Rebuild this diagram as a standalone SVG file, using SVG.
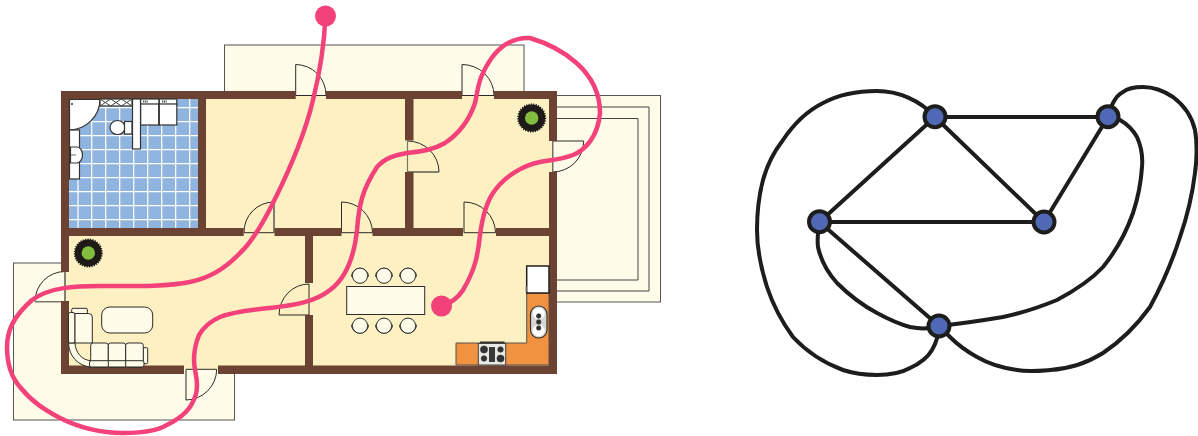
<svg xmlns="http://www.w3.org/2000/svg" width="1198" height="436" viewBox="0 0 1198 436">
<style>
.terrace{fill:#fefce8;stroke:#555;stroke-width:1}
.tl{fill:none;stroke:#444;stroke-width:1}
.wall{fill:#6c4232}
.door{fill:#fefce8;stroke:#2a2a28;stroke-width:1}
.doorf{fill:#fdf0c3;stroke:#2a2a28;stroke-width:1}
.leaf{fill:none;stroke:#77756a;stroke-width:1.2}
.fur{fill:#fefce8;stroke:#2a2a28;stroke-width:1}
.wht{fill:#fff;stroke:#33322f;stroke-width:1.2}
.chair{fill:#fefce8;stroke:#2a2a28;stroke-width:1}
.route{fill:none;stroke:#f3427a;stroke-width:4.5}
.edge{fill:none;stroke:#1d1d1b;stroke-width:4}
.node{fill:#5068b5;stroke:#1d1d1b;stroke-width:4}
.burn{fill:#333;stroke:#222;stroke-width:.5}
</style>
<defs>
<g id="chair"><path d="M-8.5,1 A8.5,8.5 0 0 1 8.5,1" fill="none" stroke="#2a2a28" stroke-width="1"/><circle r="7.6" class="chair"/></g>
<g id="tree"><circle r="13.5" fill="#1d1a17" stroke="#1d1a17" stroke-width="2" stroke-dasharray="1.2 1.2"/><circle r="6.7" fill="#82bd3f"/></g>
</defs>

<g id="floorplan">
<rect class="terrace" x="224.500" y="45" width="299.500" height="50"/>
<rect class="terrace" x="13.500" y="263" width="221" height="157"/>
<rect class="terrace" x="553" y="95.500" width="107.500" height="206.500"/>
<path class="tl" d="M553,107H649V291H553M553,118.500H638V280H553"/>
<rect x="65" y="95" width="488" height="274" fill="#fdf0c3"/>
<rect x="69" y="99" width="130" height="130" fill="#8fb4e0"/>
<path d="M78,99V228M91.700,99V228M105.700,99V228M119.700,99V228M133.700,99V228M147.700,99V228M161.700,99V228M175.700,99V228M189.700,99V228M69,107.700H198M69,121.700H198M69,135.700H198M69,149.700H198M69,163.700H198M69,177.700H198M69,191.700H198M69,205.700H198M69,219.700H198" fill="none" stroke="#fff" stroke-width="1.200"/>
<path d="M456,365V343H526.700V293H549V365Z" fill="#f09240" stroke="#55524a" stroke-width="1"/>

<path class="door" d="M295.700,95.500V64.500A30.500,30.500 0 0 1 326,95.500Z"/>
<path class="door" d="M462,95.500V64.500A32,31 0 0 1 494,95.500Z"/>
<path class="door" d="M552.700,172V141H583.700A31,31 0 0 1 552.700,172Z"/>
<path class="door" d="M65,301.700V271.500A30,30 0 0 0 35,301.700Z"/>
<path class="door" d="M186,369.300H216.700A31,31 0 0 1 186,400Z"/>
<path class="doorf" d="M407.500,172V141A31.500,31 0 0 1 439,172Z"/>
<path class="doorf" d="M274,232.700V202A30,30 0 0 0 244,232.700Z"/>
<path class="doorf" d="M341.500,232.700V202A31,31 0 0 1 372.500,232.700Z"/>
<path class="doorf" d="M464,232.700V202A31.500,31 0 0 1 495.500,232.700Z"/>
<path class="doorf" d="M309,315V284A30,31 0 0 0 279,315Z"/>
<path class="leaf" d="M407.500,141V172H439M552.700,141V172M274,202V232.700M65,271.500V301.700H35"/>

<g class="wall">
<rect x="61" y="91" width="234.700" height="8"/>
<rect x="326" y="91" width="136" height="8"/>
<rect x="494" y="91" width="63" height="8"/>
<rect x="61" y="91" width="8" height="181"/>
<rect x="61" y="301" width="8" height="73"/>
<rect x="549" y="91" width="8" height="50"/>
<rect x="549" y="172" width="8" height="202"/>
<rect x="61" y="365.500" width="123" height="8.500"/>
<rect x="218" y="365.500" width="339" height="8.500"/>
<rect x="198" y="91" width="8" height="145"/>
<rect x="405" y="91" width="8.500" height="49.500"/>
<rect x="405" y="172" width="8.500" height="60"/>
<rect x="61" y="228" width="182.700" height="8"/>
<rect x="274.500" y="228" width="67" height="8"/>
<rect x="372.500" y="228" width="90.500" height="8"/>
<rect x="496" y="228" width="61" height="8"/>
<rect x="305" y="232" width="8" height="51"/>
<rect x="305" y="315" width="8" height="52"/>
</g>

<use href="#tree" x="531.700" y="118"/>
<use href="#tree" x="88.300" y="253"/>

<path class="wht" d="M69.500,99.500H100A31,31 0 0 1 69.500,130Z" stroke="#555" stroke-width="1.500"/>
<circle cx="72" cy="104" r="1" fill="#333"/>
<rect class="wht" x="69.500" y="130" width="10" height="49"/>
<path class="wht" d="M70.500,147H77A5.500,8 0 0 1 77,163H70.500Z"/>
<path d="M70.500,155H76" fill="none" stroke="#333" stroke-width=".7"/>
<rect class="wht" x="100" y="99" width="32" height="7"/>
<path d="M100,99L110.700,106M110.700,99L100,106M110.700,99L121.400,106M121.400,99L110.700,106M121.400,99L132,106M132,99L121.400,106" stroke="#444" stroke-width="1" fill="none"/>
<ellipse class="wht" cx="117.500" cy="127.500" rx="7.500" ry="7" stroke-width="1.800"/>
<rect class="wht" x="124.500" y="121.500" width="7.500" height="12.500"/>
<rect class="wht" x="132.500" y="99" width="8" height="50"/>
<rect class="wht" x="140.700" y="99" width="18.300" height="5.500"/>
<rect class="wht" x="159.300" y="99" width="17.500" height="5.500"/>
<rect class="wht" x="140.700" y="104" width="18" height="21" stroke-width="1.600"/>
<rect class="wht" x="159.300" y="104" width="17.500" height="21" stroke-width="1.600"/>
<path d="M143,101.500h5M162,101.500h5" stroke="#555" stroke-width="1.800" stroke-dasharray="1.200 .6" fill="none"/>

<rect class="fur" x="101.700" y="307" width="51" height="26" rx="8"/>
<rect class="fur" x="71.700" y="308.300" width="15.700" height="6" rx="1.500"/>
<rect class="fur" x="143" y="347.700" width="4.700" height="16" rx="1"/>
<path class="fur" d="M68.500,343C69,356 78,366 90.700,367V360.700C82,360 75.500,353 75,343Z"/>
<rect class="fur" x="68.500" y="312.500" width="6.500" height="30.500" rx="2"/>
<path class="fur" d="M75,313.500H88.500Q92.300,313.500 92.300,317V343H75Z"/>
<rect class="fur" x="90.700" y="343" width="17.600" height="24" rx="2.500"/>
<rect class="fur" x="108.300" y="343" width="17.400" height="24" rx="2.500"/>
<rect class="fur" x="125.700" y="343" width="17.600" height="24" rx="2.500"/>
<rect class="fur" x="89.500" y="360.700" width="54.500" height="6.300" rx="2"/>
<path d="M108.300,360.700V367M125.700,360.700V367" stroke="#2a2a28" fill="none"/>

<rect class="fur" x="346.700" y="286.500" width="78" height="28" stroke="#33322f"/>
<use href="#chair" x="360" y="275.700"/>
<use href="#chair" x="384" y="275.700"/>
<use href="#chair" x="408" y="275.700"/>
<g transform="translate(360,325.700) scale(1,-1)"><use href="#chair"/></g>
<g transform="translate(384,325.700) scale(1,-1)"><use href="#chair"/></g>
<g transform="translate(408,325.700) scale(1,-1)"><use href="#chair"/></g>

<rect x="526.700" y="266" width="22.300" height="27" fill="#fff" stroke="#231f1c" stroke-width="1.500"/>
<rect x="525.500" y="286.500" width="1.500" height="5" fill="#777"/>
<rect x="530.500" y="306" width="16.500" height="32" rx="8.250" fill="#d8d8d2" stroke="#33322f" stroke-width="1.200"/>
<ellipse cx="538.700" cy="313.500" rx="6" ry="5.500" fill="#fff"/>
<ellipse cx="538.700" cy="330.500" rx="6" ry="5.500" fill="#fff"/>
<circle cx="538.700" cy="316" r="2.300" class="burn"/><circle cx="538.700" cy="322" r="2.300" class="burn"/><circle cx="538.700" cy="328" r="2.300" class="burn"/>
<rect x="480" y="341.500" width="24.500" height="2" fill="#33322f"/>
<rect x="478.300" y="343.500" width="27.400" height="21.500" fill="#e9e9e4" stroke="#444" stroke-width="1"/>
<circle cx="484" cy="349.500" r="3.600" class="burn"/><circle cx="500.500" cy="349.500" r="2.800" class="burn"/><circle cx="484" cy="358.500" r="2.800" class="burn"/><circle cx="500.500" cy="358.500" r="3.600" class="burn"/>
<rect x="489" y="347" width="6" height="15" fill="#3a3a38"/>

<path class="route" d="M325.500,16C324,50 318,80 313,100C306,130 292,165 273,203C262,225 252,242 240,253C226,268 210,278 190,282C165,287 130,286 100,286C75,286 50,287 32,300C14,316 7,330 7,347C7,365 12,378 20,387C32,402 45,410 60,418C80,428 100,433 123,433C140,433 152,432 163,427C178,420 186,413 190,407C196,397 197,392 197,385C197,375 194,370 194,360C194,350 195,345 199,335C205,325 213,320 220,317C235,311 252,310 270,308C295,305 315,302 330,290C345,279 354,258 357,230C359,205 362,190 377,167C385,158 395,155 407,153C420,152 433,150 445,143C460,133 470,118 475,103C478,90 478,82 483,73C490,58 503,37 530,38C560,47 600,70 600,113C598,137 585,150 573,155C560,160 550,160 540,162C525,165 505,175 493,193C485,205 482,220 480,235C478,255 475,270 463,290C458,298 452,303 441,306"/>
<circle cx="325.500" cy="16" r="10.500" fill="#f3427a"/>
<circle cx="441.500" cy="306" r="10.500" fill="#f3427a"/>
</g>

<g id="connectors">
<path class="edge" d="M935,117L819.500,222M935,117H1108M935,117L1044,222M819.500,222H1044M1108,117L1044,222M819.500,222L939,326"/>
<path class="edge" d="M935,117C920,100 898,91 877,91C855,91 838,95 823,103C805,112 793,125 783,140C773,153 767,165 763,180C759,195 757,212 757,230C757,250 761,268 767,287C773,305 782,322 793,337C807,352 824,363 843,370C855,374 866,375 877,375C890,375 901,373 910,368C921,363 928,357 932,350C936,343 939,336 939,326"/>
<path class="edge" d="M1108,117C1110,110 1112,105 1113,103C1116,97 1119,94 1123,92C1128,88 1135,87 1143,87C1154,87 1164,91 1173,97C1185,106 1192,117 1195,130C1197,142 1197,158 1195,173C1192,197 1187,217 1180,237C1172,262 1162,285 1150,307C1137,325 1121,341 1103,353C1087,363 1068,369 1050,370C1038,371 1028,372 1017,370C1002,368 989,364 977,357C966,351 957,344 950,337L939,326"/>
<path class="edge" d="M1108,117C1113,118 1117,119 1120,120C1127,124 1133,130 1137,137C1141,146 1143,156 1142,167C1141,182 1138,198 1133,213C1126,233 1116,251 1103,267C1090,281 1074,291 1057,300C1040,307 1022,313 1003,317C985,320 967,323 939,326"/>
<path class="edge" d="M819.500,222C818,231 817,239 818,247C821,261 828,273 837,283C849,295 862,305 877,313C888,319 899,324 910,327C920,329 930,329 939,326"/>
</g>
<g id="node-a"><circle class="node" cx="935" cy="116.700" r="10.500"/></g>
<g id="node-b"><circle class="node" cx="1108" cy="116.700" r="10.500"/></g>
<g id="node-c"><circle class="node" cx="819.500" cy="221.700" r="10.500"/></g>
<g id="node-d"><circle class="node" cx="1044" cy="222" r="10.500"/></g>
<g id="node-e"><circle class="node" cx="939" cy="326" r="10.500"/></g>
</svg>
